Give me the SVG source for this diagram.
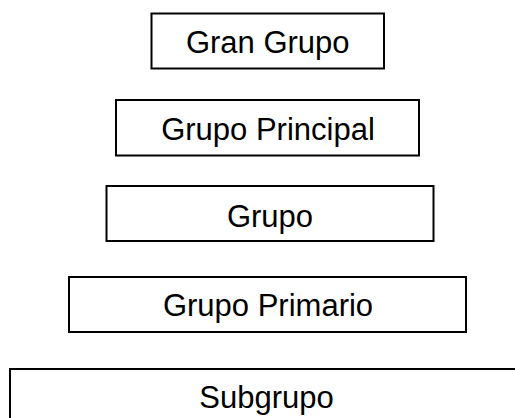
<svg xmlns="http://www.w3.org/2000/svg" width="515" height="418" viewBox="0 0 515 418">
<style>
.box{fill:#fff;stroke:#000;stroke-width:2}
.lbl{font-family:"Liberation Sans",Arial,sans-serif;font-size:31px;fill:#000;text-anchor:middle}
</style>
<rect width="515" height="418" fill="#fff"/>
<g id="connectors"></g>
<g id="gran-grupo"><rect class="box" x="151.5" y="13.5" width="232.5" height="55"/><text class="lbl" x="267.75" y="53">Gran Grupo</text></g>
<g id="grupo-principal"><rect class="box" x="116" y="100" width="303" height="55.5"/><text class="lbl" x="268" y="140">Grupo Principal</text></g>
<g id="grupo"><rect class="box" x="106.5" y="186" width="327" height="55"/><text class="lbl" x="270" y="226.5">Grupo</text></g>
<g id="grupo-primario"><rect class="box" x="69" y="277" width="397" height="55"/><text class="lbl" x="268" y="316">Grupo Primario</text></g>
<g id="subgrupo"><rect class="box" x="10" y="369" width="520" height="60"/><text class="lbl" x="266.5" y="408">Subgrupo</text></g>
</svg>
